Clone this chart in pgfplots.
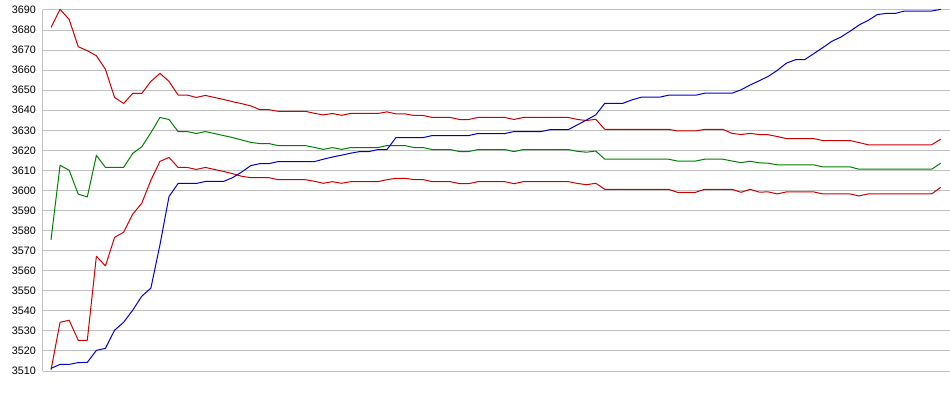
\documentclass[border=0pt]{standalone}
\usepackage{fontspec}
\setmainfont{Liberation Sans}
\usepackage{pgfplots}
\usepackage{pgfplotstable}
\pgfplotsset{compat=1.18}
\definecolor{gridgray}{RGB}{192,192,192}
\definecolor{lred}{RGB}{205,0,0}
\definecolor{lblue}{RGB}{0,0,205}
\definecolor{lgreen}{RGB}{0,128,0}
\pgfplotstableread{
i U G L B
0 3681.3 3575.4 3510.5 3511.3
1 3690.3 3612.6 3534.3 3513.3
2 3685.3 3610.1 3535.3 3513.3
3 3671.7 3598.2 3525.3 3514.2
4 3669.7 3596.8 3525.3 3514.3
5 3667.2 3617.5 3567.2 3520.3
6 3660.4 3611.5 3562.4 3521.3
7 3646.4 3611.5 3576.6 3530.3
8 3643.4 3611.5 3579.2 3534.3
9 3648.4 3618.5 3588.2 3540.3
10 3648.4 3621.8 3593.7 3547.3
11 3654.4 3628.8 3605.1 3551.3
12 3658.4 3636.4 3614.5 3572.9
13 3654.4 3635.4 3616.5 3597.0
14 3647.6 3629.4 3611.5 3603.5
15 3647.6 3629.4 3611.5 3603.5
16 3646.4 3628.4 3610.5 3603.5
17 3647.4 3629.4 3611.5 3604.5
18 3646.4 3628.4 3610.5 3604.5
19 3645.4 3627.4 3609.5 3604.5
20 3644.3 3626.4 3608.4 3606.4
21 3643.3 3625.2 3607.1 3609.2
22 3642.2 3624.0 3606.4 3612.4
23 3640.3 3623.4 3606.4 3613.4
24 3640.3 3623.4 3606.4 3613.4
25 3639.5 3622.4 3605.4 3614.4
26 3639.5 3622.4 3605.4 3614.4
27 3639.5 3622.4 3605.4 3614.4
28 3639.5 3622.4 3605.4 3614.4
29 3638.5 3621.5 3604.6 3614.4
30 3637.7 3620.5 3603.6 3615.6
31 3638.4 3621.4 3604.4 3616.7
32 3637.5 3620.5 3603.6 3617.6
33 3638.4 3621.4 3604.4 3618.6
34 3638.4 3621.4 3604.4 3619.4
35 3638.4 3621.4 3604.4 3619.4
36 3638.4 3621.4 3604.4 3620.4
37 3639.2 3622.4 3605.4 3620.4
38 3638.2 3622.4 3606.1 3626.4
39 3638.2 3622.4 3606.1 3626.4
40 3637.4 3621.4 3605.4 3626.4
41 3637.4 3621.4 3605.4 3626.4
42 3636.4 3620.4 3604.4 3627.4
43 3636.4 3620.4 3604.4 3627.4
44 3636.4 3620.4 3604.4 3627.4
45 3635.4 3619.4 3603.4 3627.4
46 3635.4 3619.4 3603.4 3627.4
47 3636.4 3620.4 3604.4 3628.4
48 3636.4 3620.4 3604.4 3628.4
49 3636.4 3620.4 3604.4 3628.4
50 3636.4 3620.4 3604.4 3628.4
51 3635.4 3619.4 3603.4 3629.4
52 3636.4 3620.4 3604.4 3629.4
53 3636.4 3620.4 3604.4 3629.4
54 3636.4 3620.4 3604.4 3629.4
55 3636.4 3620.4 3604.4 3630.4
56 3636.4 3620.4 3604.4 3630.4
57 3636.4 3620.4 3604.4 3630.4
58 3635.4 3619.5 3603.5 3632.8
59 3634.9 3619.1 3602.9 3635.2
60 3635.5 3619.7 3603.6 3637.7
61 3630.5 3615.6 3600.6 3643.5
62 3630.5 3615.6 3600.6 3643.5
63 3630.5 3615.6 3600.6 3643.5
64 3630.5 3615.6 3600.6 3645.2
65 3630.5 3615.6 3600.6 3646.5
66 3630.5 3615.6 3600.6 3646.5
67 3630.5 3615.6 3600.6 3646.5
68 3630.5 3615.6 3600.6 3647.5
69 3629.7 3614.7 3599.1 3647.5
70 3629.7 3614.7 3599.1 3647.5
71 3629.7 3614.7 3599.1 3647.5
72 3630.5 3615.6 3600.6 3648.5
73 3630.5 3615.6 3600.6 3648.5
74 3630.5 3615.6 3600.6 3648.5
75 3628.5 3614.7 3600.6 3648.5
76 3627.9 3613.9 3599.1 3650.2
77 3628.5 3614.6 3600.6 3652.6
78 3627.9 3613.8 3599.2 3654.7
79 3627.8 3613.6 3599.3 3656.9
80 3626.9 3612.8 3598.3 3659.9
81 3625.9 3612.8 3599.3 3663.5
82 3625.9 3612.8 3599.3 3665.2
83 3625.9 3612.8 3599.3 3665.2
84 3625.9 3612.8 3599.3 3668.2
85 3624.9 3611.8 3598.3 3671.2
86 3624.9 3611.8 3598.3 3674.4
87 3624.9 3611.8 3598.3 3676.5
88 3624.9 3611.8 3598.3 3679.4
89 3623.9 3610.6 3597.3 3682.5
90 3622.8 3610.6 3598.3 3684.8
91 3622.8 3610.6 3598.3 3687.7
92 3622.8 3610.6 3598.3 3688.3
93 3622.8 3610.6 3598.3 3688.3
94 3622.8 3610.6 3598.3 3689.5
95 3622.8 3610.6 3598.3 3689.5
96 3622.8 3610.6 3598.3 3689.5
97 3622.8 3610.6 3598.3 3689.5
98 3625.6 3613.6 3601.6 3690.3
}\datatable
\begin{document}
\begin{tikzpicture}
\begin{axis}[
  name=ax,
  scale only axis,
  width=907.3bp, height=361bp,
  xmin=-0.914, xmax=99.02,
  ymin=3510, ymax=3690,
  ytick={3510,3520,...,3690},
  xtick=\empty,
  axis x line=none,
  axis y line*=left,
  y axis line style={draw=gridgray, line width=1bp},
  ytick style={draw=none},
  major tick length=0pt,
  ymajorgrids,
  grid style={draw=gridgray, line width=1bp},
  clip=false,
  /pgf/number format/assume math mode=true,
  /pgf/number format/1000 sep={},
  yticklabel style={font=\fontsize{10.8}{12}\selectfont, anchor=east, inner sep=0pt, xshift=-6.7bp},
  every axis plot/.append style={line width=1bp, line join=round, no markers},
]
\addplot[lred] table[x=i, y=U] {\datatable};
\addplot[lred] table[x=i, y=L] {\datatable};
\addplot[lgreen] table[x=i, y=G] {\datatable};
\addplot[lblue] table[x=i, y=B] {\datatable};
\end{axis}
\pgfresetboundingbox
\path ([xshift=-42.7bp,yshift=-24bp]ax.south west) rectangle ([yshift=10bp]ax.north east);
\end{tikzpicture}
\end{document}
